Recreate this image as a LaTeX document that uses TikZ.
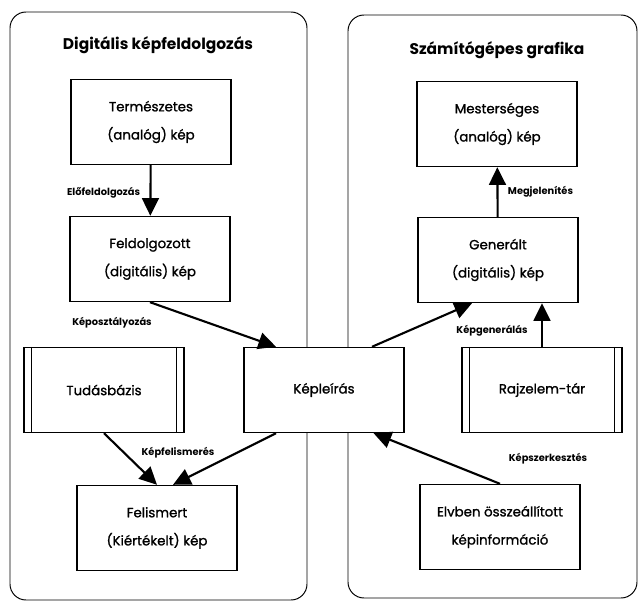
\documentclass[tikz,border=0pt]{standalone}
\usepackage{fontspec}
\setmainfont{Poppins}
\newfontfamily\boxfont{Poppins}[RawFeature = {embolden=1.2}]
\usetikzlibrary{arrows.meta}

\tikzset{
box/.style = {draw, fill = white, line width = 1pt, minimum width = 4cm, minimum height = 2.125cm, align = center, font = \boxfont\fontsize{9.5}{20}\selectfont},
flow/.style = {-{Triangle[length = 4.4mm, width = 4.2mm]}, line width = 1.5pt},
lbl/.style = {font = \bfseries\fontsize{7}{8}\selectfont, inner sep = 1pt},
panel/.style = {draw, line width = 0.7pt, rounded corners = 0.4cm},
title/.style = {font = \bfseries\fontsize{11}{13}\selectfont}
}

\begin{document}
\begin{tikzpicture}[x = 0.025cm, y = -0.025cm]
\useasboundingbox (0,0) rectangle (639,604);
\draw [panel] (10,12) rectangle (307,600);
\draw [panel] (348,15) rectangle (637,598);
\node (tleft) [title] at (158,45) {Digitális képfeldolgozás};
\node (tright) [title] at (497,50) {Számítógépes grafika};

\node (term) [box] at (151,122) {Természetes\\(analóg) kép};
\node (feld) [box] at (150,259) {Feldolgozott\\(digitális) kép};
\node (tud) [box] at (104,390) {Tudásbázis};
\node (kepl) [box] at (324,390) {Képleírás};
\node (fel) [box] at (157,528) {Felismert\\(Kiértékelt) kép};
\node (mest) [box] at (497,124) {Mesterséges\\(analóg) kép};
\node (gen) [box] at (498,260) {Generált\\(digitális) kép};
\node (rajz) [box] at (542,390) {Rajzelem-tár};
\node (elv) [box] at (500,527) {Elvben összeállított\\képinformáció};

\foreach \b in {tud,rajz}{
\draw [line width = 1pt] ([xshift = 0.2cm]\b.north west) -- ([xshift = 0.2cm]\b.south west);
\draw [line width = 1pt] ([xshift = -0.2cm]\b.north east) -- ([xshift = -0.2cm]\b.south east);
}

\draw [flow] (term) -- (feld) node (lpre) [lbl, pos = 0.55, left = 2mm] {Előfeldolgozás};
\draw [flow] (feld.south) -- ([xshift = -1.2cm]kepl.north);
\draw [flow] (tud.south) -- (fel.north);
\draw [flow] ([xshift = -1.2cm]kepl.south) -- ([xshift = 0.4cm]fel.north);
\draw [flow] ([xshift = 1.2cm]kepl.north) -- ([xshift = -0.65cm]gen.south);
\draw [flow] (rajz.north) -- (rajz.north |- gen.south);
\draw [flow] (gen) -- (mest) node (lmeg) [lbl, midway, right = 2mm] {Megjelenítés};
\draw [flow] (elv.north) -- ([xshift = 1.24cm]kepl.south);

\node (losz) [lbl] at (112,323) {Képosztályozás};
\node (lfel) [lbl] at (178,453) {Képfelismerés};
\node (lgen) [lbl] at (492,331) {Képgenerálás};
\node (lszer) [lbl] at (548,459) {Képszerkesztés};
\end{tikzpicture}
\end{document}
